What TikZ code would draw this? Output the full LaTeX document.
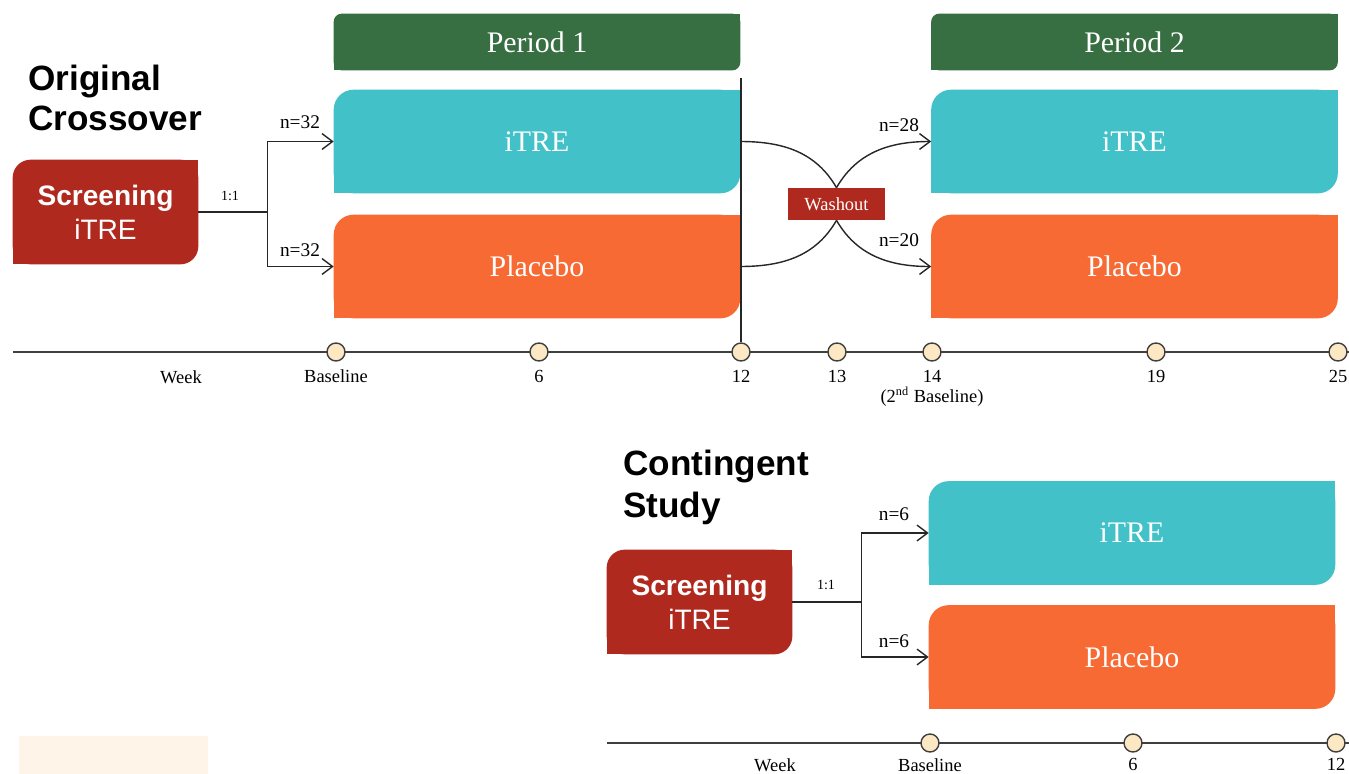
\documentclass[tikz,border=0pt]{standalone}
\usepackage{fontspec}
\setmainfont{Liberation Serif}
\setsansfont{Liberation Sans}
\usetikzlibrary{arrows.meta,backgrounds,positioning}

\definecolor{periodgreen}{HTML}{376E42}
\definecolor{armteal}{HTML}{42C1C8}
\definecolor{armorange}{HTML}{F86A33}
\definecolor{screenred}{HTML}{B0291F}
\definecolor{dotfill}{HTML}{FDE8C4}
\definecolor{linegray}{HTML}{3F3F3F}
\definecolor{notecream}{HTML}{FEF5E8}

\tikzset{
  armbox/.style={minimum width=8.12cm, minimum height=2.06cm, inner sep=0pt,
    text=white, font=\fontsize{17}{20}\selectfont},
  headbox/.style={minimum width=8.12cm, minimum height=1.12cm, inner sep=0pt,
    text=white, font=\fontsize{17}{20}\selectfont},
  screenbox/.style={minimum width=3.7cm, minimum height=2.08cm, inner sep=0pt,
    text=white, align=center, font=\sffamily\fontsize{16}{19.5}\selectfont},
  washbox/.style={fill=screenred, minimum width=1.94cm, minimum height=0.64cm,
    inner sep=0pt, text=white, font=\fontsize{10.5}{12}\selectfont},
  titletext/.style={anchor=west, align=left, inner sep=0pt,
    font=\sffamily\bfseries\fontsize{20}{22.5}\selectfont},
  armlabel/.style={inner sep=0pt, font=\fontsize{11}{13}\selectfont},
  ratiolabel/.style={inner sep=0pt, font=\fontsize{8}{10}\selectfont},
  weekdot/.style={circle, draw=linegray, fill=dotfill, line width=0.8pt,
    minimum size=0.36cm, inner sep=0pt},
  weektext/.style={inner sep=0pt, align=center, font=\fontsize{10.5}{11.5}\selectfont},
  axis/.style={draw=linegray, line width=1.2pt},
  branch/.style={draw=black!85, line width=0.8pt},
  arrowed/.style={branch, -{Straight Barb[length=6pt,width=9pt]}},
}

\newcommand*{\LeafFill}[3]{% #1 = node, #2 = colour, #3 = corner radius
\fill [#2, rounded corners=#3] (#1.south west) rectangle (#1.north east);
\fill [#2] (#1.north east) rectangle ([xshift=-#3, yshift=-#3]#1.north east);
\fill [#2] (#1.south west) rectangle ([xshift=#3, yshift=#3]#1.south west);
}

\newcommand*{\WeekMarks}[3]{% #1 = list of x/name/label, #2 = y of the axis, #3 = gap
\foreach \x/\n/\lab in {#1} {
\node [weekdot] (\n) at (\x,#2) {};
\node [weektext, anchor=north] (\n txt) at ([yshift=-#3]\n.south) {\lab};
}%
}

\begin{document}
\begin{tikzpicture}[x=0.02cm, y=0.02cm]
\useasboundingbox (0,0) rectangle (1349,-774);

% original crossover
\node [titletext] (title1) at (28,-98) {Original\\Crossover};
\node [screenbox] (scr1) at (105.5,-212) {\textbf{Screening}\\iTRE};
\node [headbox] (per1) at (537,-42) {Period 1};
\node [headbox] (per2) at (1134.5,-42) {Period 2};
\node [armbox] (itre1) at (537,-141.5) {iTRE};
\node [armbox] (plac1) at (537,-266.5) {Placebo};
\node [armbox] (itre2) at (1134.5,-141.5) {iTRE};
\node [armbox] (plac2) at (1134.5,-266.5) {Placebo};
\node [washbox] (wash) at (836.5,-204) {Washout};

% contingent study
\node [titletext, font=\sffamily\bfseries\fontsize{20}{24}\selectfont]
  (title2) at (623,-487) {Contingent\\Study};
\node [screenbox] (scr2) at (699.5,-602) {\textbf{Screening}\\iTRE};
\node [armbox] (itre3) at (1132,-533) {iTRE};
\node [armbox] (plac3) at (1132,-657) {Placebo};

\begin{scope}[on background layer]
\LeafFill{scr1}{screenred}{0.36cm}
\LeafFill{scr2}{screenred}{0.36cm}
\LeafFill{per1}{periodgreen}{0.16cm}
\LeafFill{per2}{periodgreen}{0.16cm}
\LeafFill{itre1}{armteal}{0.4cm}
\LeafFill{plac1}{armorange}{0.4cm}
\LeafFill{itre2}{armteal}{0.4cm}
\LeafFill{plac2}{armorange}{0.4cm}
\LeafFill{itre3}{armteal}{0.4cm}
\LeafFill{plac3}{armorange}{0.4cm}
\fill [notecream] (19,-736) rectangle (208,-774);
\end{scope}

% randomisation
\draw [branch] (scr1.east) -- ++(69,0) coordinate (fork1);
\draw [arrowed] (fork1) |- (itre1.west);
\draw [arrowed] (fork1) |- (plac1.west);
\node [ratiolabel] (ratio1) at (230,-196) {1:1};
\node [armlabel] (n1a) at (300,-122) {n=32};
\node [armlabel] (n1b) at (300,-250) {n=32};

\draw [branch] (scr2.east) -- ++(69,0) coordinate (fork2);
\draw [arrowed] (fork2) |- (itre3.west);
\draw [arrowed] (fork2) |- (plac3.west);
\node [ratiolabel] (ratio2) at (826,-585) {1:1};
\node [armlabel] (n3a) at (894,-514) {n=6};
\node [armlabel] (n3b) at (894,-641) {n=6};

% crossover through washout
\draw [branch] (itre1.east) to[out=0, in=120] (wash.north);
\draw [branch] (plac1.east) to[out=0, in=-120] (wash.south);
\draw [arrowed] (wash.north) to[out=60, in=180] (itre2.west);
\draw [arrowed] (wash.south) to[out=-60, in=180] (plac2.west);
\node [armlabel] (n2a) at (899,-125) {n=28};
\node [armlabel] (n2b) at (899,-240) {n=20};

% week axes
\coordinate (axisA) at (13,-352);
\coordinate (axisB) at (1349,-352);
\draw [axis] (axisA) -- (axisB);
\coordinate (axisC) at (607,-743);
\coordinate (axisD) at (1349,-743);
\draw [axis] (axisC) -- (axisD);

\WeekMarks{336/wbase/Baseline, 539/w6/6, 741/w12/12, 837/w13/13,
  932/w14/{14\\(2\textsuperscript{\scriptsize nd} Baseline)}, 1156/w19/19, 1338/w25/25}{-352}{4.5pt}
\WeekMarks{930/cbase/Baseline, 1133/c6/6, 1336/c12/12}{-743}{3pt}
\node [weektext] (week1) at (181,-377) {Week};
\node [weektext] (week2) at (775,-765) {Week};

\coordinate (cutTop) at (741,-78);
\draw [branch] (cutTop) -- (w12.north);
\end{tikzpicture}
\end{document}
